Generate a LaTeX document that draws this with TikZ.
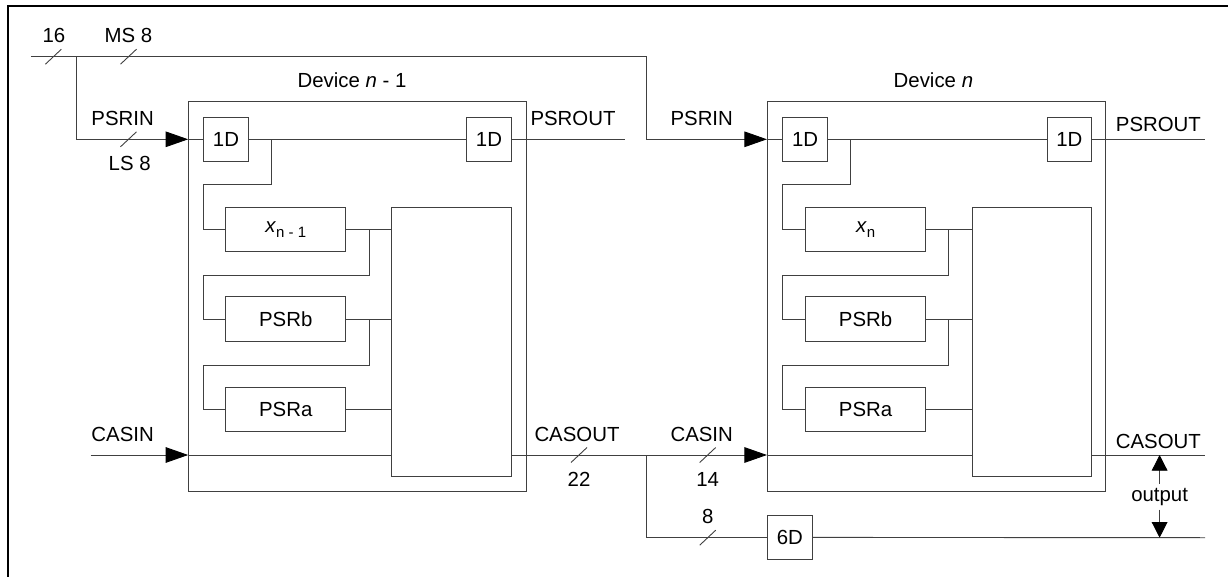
\documentclass[tikz,border=0pt]{standalone}
\usepackage{fontspec}
\setmainfont{Liberation Sans}
\usetikzlibrary{arrows.meta}

\tikzset{
  wire/.style={draw=black!75, line width=0.9pt},
  blk/.style={draw=black!75, line width=0.9pt, inner sep=0pt, font=\sig},
  dff/.style={blk, minimum width=44.7pt, minimum height=44.4pt},
  regbox/.style={blk, minimum width=119.8pt, minimum height=44.4pt},
  inarrow/.style={-{Triangle[length=22.6pt,width=15.6pt,color=black]}},
  outarrow/.style={-{Triangle[length=15.7pt,width=15.8pt,color=black]}},
  lbl/.style={inner sep=1pt, font=\sig},
  bwslash/.pic={\draw[draw=black!75, line width=0.9pt] (-8,-7.5) -- (8,7.5);}
}
\newcommand{\sig}{\fontsize{20.4}{24}\selectfont}
\newcommand{\idx}[1]{\raisebox{-4.5pt}{\fontsize{15}{16}\selectfont #1}}

\begin{document}
\begin{tikzpicture}[x=1pt,y=1pt,yscale=-1,xscale=1]
\useasboundingbox (0,0) rectangle (1228,577);

%Frame
\draw [line width=2.4pt] (8,590) -- (8,6) -- (1240,6) ;

%Device n-1
\node [blk, minimum width=337.7pt, minimum height=390pt] (devA) at (357.5,296.7) {};
\node [dff] (dAin) at (226,139.3) {1D};
\node [dff] (dAout) at (489,139.3) {1D};
\node [regbox] (xA) at (285.7,229.5) {\textit{x}\idx{n - 1}};
\node [regbox] (pbA) at (285.7,319) {PSRb};
\node [regbox] (paA) at (285.7,409.7) {PSRa};
\node [blk, minimum width=119.5pt, minimum height=269.4pt] (mA) at (451.3,342) {};

%Device n
\node [blk, minimum width=338.4pt, minimum height=390pt] (devB) at (936.6,296.7) {};
\node [dff] (dBin) at (805.1,139.3) {1D};
\node [dff] (dBout) at (1069.3,139.3) {1D};
\node [regbox] (xB) at (865.6,229.5) {\textit{x}\idx{n}};
\node [regbox] (pbB) at (865.6,319) {PSRb};
\node [regbox] (paB) at (865.6,409.7) {PSRa};
\node [blk, minimum width=119.5pt, minimum height=269.4pt] (mB) at (1031.7,342) {};

%Delay
\node [dff] (sixD) at (789.9,537.4) {6D};

%Free ends and junctions
\coordinate (busL) at (30.8,56.7);
\coordinate (busA) at (76,56.7);
\coordinate (busB) at (646.8,56.7);
\coordinate (casinL) at (90.5,455);
\coordinate (casJ) at (646.8,455);
\coordinate (psroutA) at (625,139.3);
\coordinate (psroutB) at (1205,139.3);
\coordinate (casoutB) at (1205,455);
\coordinate (delayR) at (1205,537.7);
\coordinate (jA1) at (271.3,139.3);
\coordinate (jA2) at (369.3,229.5);
\coordinate (jA3) at (369.3,319);
\coordinate (jB1) at (850,139.3);
\coordinate (jB2) at (948.9,229.5);
\coordinate (jB3) at (948.9,319);

%PSRIN bus
\draw [wire] (busL) -- (busB) ;
\draw [wire, inarrow] (busA) |- (devA.west |- dAin) ;
\draw [wire] (devA.west |- dAin) -- (dAin.west) ;
\draw [wire, inarrow] (busB) |- (devB.west |- dBin) ;
\draw [wire] (devB.west |- dBin) -- (dBin.west) ;

%Device n-1 wiring
\draw [wire] (dAin.east) -- (dAout.west) ;
\draw [wire] (dAout.east) -- (psroutA) ;
\draw [wire] (jA1) -- ++(0,44.7) -| (dAin.west |- xA) -- (xA.west) ;
\draw [wire] (xA.east) -- (mA.west |- xA) ;
\draw [wire] (jA2) -- ++(0,45.5) -| (dAin.west |- pbA) -- (pbA.west) ;
\draw [wire] (pbA.east) -- (mA.west |- pbA) ;
\draw [wire] (jA3) -- ++(0,46) -| (dAin.west |- paA) -- (paA.west) ;
\draw [wire] (paA.east) -- (mA.west |- paA) ;
\draw [wire, inarrow] (casinL) -- (devA.west |- casinL) ;
\draw [wire] (devA.west |- casinL) -- (mA.west |- casinL) ;

%Device n wiring
\draw [wire] (dBin.east) -- (dBout.west) ;
\draw [wire] (dBout.east) -- (psroutB) ;
\draw [wire] (jB1) -- ++(0,44.7) -| (dBin.west |- xB) -- (xB.west) ;
\draw [wire] (xB.east) -- (mB.west |- xB) ;
\draw [wire] (jB2) -- ++(0,45.5) -| (dBin.west |- pbB) -- (pbB.west) ;
\draw [wire] (pbB.east) -- (mB.west |- pbB) ;
\draw [wire] (jB3) -- ++(0,46) -| (dBin.west |- paB) -- (paB.west) ;
\draw [wire] (paB.east) -- (mB.west |- paB) ;

%Cascade
\draw [wire, inarrow] (mA.east |- casJ) -- (devB.west |- casJ) ;
\draw [wire] (devB.west |- casJ) -- (mB.west |- casJ) ;
\draw [wire] (mB.east |- casoutB) -- (casoutB) ;
\draw [wire] (casJ) |- (sixD.west) ;
\draw [wire] (sixD.east) -- (delayR) ;

%Bus widths
\pic at (53.4,56.7) {bwslash};
\pic at (128.5,56.7) {bwslash};
\pic at (128.5,139.3) {bwslash};
\pic at (579,455) {bwslash};
\pic at (707.7,455) {bwslash};
\pic at (707.7,537.7) {bwslash};

% Text Node
\node [lbl] (t16) at (54,35) {16};
\node [lbl] (tms) at (128.5,35) {MS 8};
\node [lbl] (tpinA) at (122.6,118.3) {PSRIN};
\node [lbl] (tls) at (129.7,163.3) {LS 8};
\node [lbl] (tcinA) at (122.6,434) {CASIN};
\node [lbl] (tdevA) at (352,80) {Device \textit{n} - 1};
\node [lbl] (tpoutA) at (573,118.3) {PSROUT};
\node [lbl] (tcoutA) at (577,434) {CASOUT};
\node [lbl] (t22) at (579,479) {22};
\node [lbl] (tpinB) at (701.7,118.3) {PSRIN};
\node [lbl] (tcinB) at (701.7,434) {CASIN};
\node [lbl] (t14) at (707.7,479.3) {14};
\node [lbl] (t8) at (707.7,516) {8};
\node [lbl] (tdevB) at (933.4,80) {Device \textit{n}};
\node [lbl] (tpoutB) at (1158.4,124) {PSROUT};
\node [lbl] (tcoutB) at (1158.4,441) {CASOUT};
\node [lbl, inner sep=4pt] (tout) at (1159.6,496.7) {output};
\draw [wire, outarrow] (tout.north) -- (tout.north |- casoutB) ;
\draw [wire, outarrow] (tout.south) -- (tout.south |- delayR) ;

\end{tikzpicture}
\end{document}
